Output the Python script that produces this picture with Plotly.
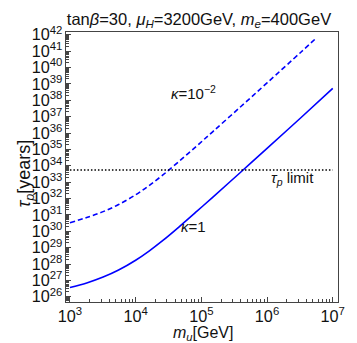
import numpy as np
import plotly.graph_objects as go

# m_u [GeV]
m_solid = [1e3, 1.8e3, 3.2e3, 5.5e3, 1e4, 1.6e4, 2.6e4, 4.5e4, 8.5e4, 1.5e5, 4e5, 1e6, 3.3e6, 1e7]
# log10(tau_p / years), kappa = 1
logtau_solid = [26.56, 26.84, 27.20, 27.63, 28.23, 28.79, 29.44, 30.24, 31.21, 32.09, 33.62, 35.06, 36.95, 38.73]

m_dash = [1e3, 1.8e3, 3.2e3, 5.5e3, 1e4, 1.6e4, 2.6e4, 4.5e4, 8.5e4, 1.5e5, 4e5, 1e6, 3.3e6, 5.6e6]
# log10(tau_p / years), kappa = 1e-2
logtau_dash = [30.52, 30.84, 31.20, 31.63, 32.23, 32.79, 33.44, 34.24, 35.21, 36.09, 37.62, 39.06, 40.95, 41.80]

m_limit = [1e3, 1e7]
tau_limit = [5.5e33, 5.5e33]

tau_solid = [10 ** v for v in logtau_solid]
tau_dash = [10 ** v for v in logtau_dash]

BLUE = "#0000ff"
FONT = "Liberation Sans, Arial, sans-serif"
TXT = "#111"

fig = go.Figure()
fig.add_trace(go.Scatter(x=m_solid, y=tau_solid, mode="lines",
                         line=dict(color=BLUE, width=1.6, shape="spline", smoothing=1.0),
                         showlegend=False))
fig.add_trace(go.Scatter(x=m_dash, y=tau_dash, mode="lines",
                         line=dict(color=BLUE, width=1.6, dash="5px,3px", shape="spline", smoothing=1.0),
                         showlegend=False))
fig.add_trace(go.Scatter(x=m_limit, y=tau_limit, mode="lines",
                         line=dict(color="black", width=1.4, dash="1.5px,2px"),
                         showlegend=False))

axis_common = dict(
    type="log",
    showgrid=False,
    zeroline=False,
    showline=True,
    linecolor="#444",
    linewidth=1,
    mirror=True,
    ticks="inside",
    ticklen=5,
    tickwidth=1,
    tickcolor="#444",
    dtick=1,
    exponentformat="power",
    showexponent="all",
    tickfont=dict(family=FONT, size=13, color=TXT),
    minor=dict(ticks="inside", ticklen=3, tickwidth=1, tickcolor="#444", dtick="D1", showgrid=False),
)

fig.update_xaxes(**axis_common, range=[2.94, 7.08])
fig.update_yaxes(**axis_common, range=[25.68, 42.17])

fig.add_annotation(x=0.505, y=-0.118, xref="paper", yref="paper", text="<i>m<sub>u</sub></i>[GeV]",
                   showarrow=False, font=dict(family=FONT, size=16, color=TXT),
                   xanchor="center", yanchor="middle")
fig.add_annotation(x=-0.148, y=0.475, xref="paper", yref="paper", text="<i>τ<sub>p</sub></i>[years]",
                   showarrow=False, font=dict(family=FONT, size=18, color=TXT),
                   textangle=-90, xanchor="center", yanchor="middle")

ann_font = dict(family=FONT, size=15, color=TXT)
fig.add_annotation(x=4.88, y=38.5, xref="x", yref="y", text="<i>κ</i>=10<sup>−2</sup>",
                   showarrow=False, font=ann_font)
fig.add_annotation(x=4.88, y=30.3, xref="x", yref="y", text="<i>κ</i>=1",
                   showarrow=False, font=ann_font)
fig.add_annotation(x=6.38, y=33.2, xref="x", yref="y", text="<i>τ<sub>p</sub></i> limit",
                   showarrow=False, font=ann_font)

fig.update_layout(
    width=357, height=343,
    margin=dict(l=57.5, r=27, t=24, b=48.5),
    paper_bgcolor="white", plot_bgcolor="white",
    title=dict(text="tan<i>β</i>=30, <i>μ<sub>H</sub></i>=3200GeV, <i>m<sub>e</sub></i>=400GeV",
               x=0.535, xanchor="center", y=0.968, yanchor="middle",
               font=dict(family=FONT, size=16.5, color=TXT)),
)

fig.write_html("out.html")
